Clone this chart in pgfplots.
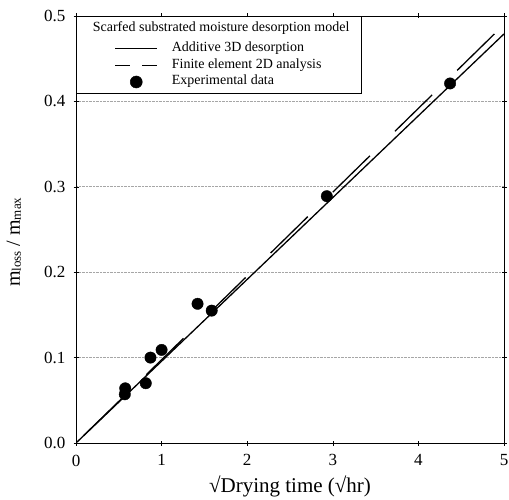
\documentclass[border=0pt]{standalone}
\usepackage{pgfplots}
\pgfplotsset{compat=1.18}
\usepackage{fontspec}
\setmainfont{Liberation Serif}
\begin{document}
\begin{tikzpicture}
\begin{axis}[
  name=ax,
  scale only axis, width=428pt, height=427pt,
  xmin=0, xmax=5, ymin=0, ymax=0.5,
  xtick={0,1,2,3,4,5}, ytick={0,0.1,0.2,0.3,0.4,0.5},
  /pgf/number format/assume math mode=true,
  yticklabel style={/pgf/number format/fixed, /pgf/number format/fixed zerofill, /pgf/number format/precision=1, inner sep=0pt, xshift=-8pt},
  xticklabel style={inner sep=0pt, yshift=-9pt},
  ticklabel style={font=\fontsize{17}{17}\selectfont},
  tick align=center, major tick length=5pt, tick style={black, line width=0.5pt},
  ymajorgrids, major grid style={densely dotted, gray!70, line width=0.6pt},
  axis line style={black, line width=0.6pt},
  xlabel={\fontsize{21}{21}\selectfont √Drying time (√hr)},
  xlabel style={at={(axis description cs:0.5,0)}, anchor=base, yshift=-49pt, inner sep=0pt},
  ylabel={\fontsize{20}{20}\selectfont m\raisebox{-1pt}{\fontsize{13}{13}\selectfont loss} / m\raisebox{-1pt}{\fontsize{13}{13}\selectfont max}},
  ylabel style={at={(axis description cs:-0.145,0.47)}, anchor=center, inner sep=0pt},
  legend style={at={(rel axis cs:0,1)}, anchor=north west, draw=black, line width=0.5pt, inner sep=3pt, row sep=0pt, column sep=14pt,
    font=\fontsize{14}{16}\selectfont,
    nodes={inner sep=0pt, text depth={}, text height={}, font=\fontsize{14}{16}\selectfont}, cells={anchor=west}},
]
\addlegendimage{empty legend}
\addlegendentry{\hspace*{-79pt}\rule[-9pt]{0pt}{21.5pt}Scarfed substrated moisture desorption model\hspace*{9pt}}

\addplot[black, line width=1.3pt,
  legend image code/.code={\path[draw=none] (0pt,0pt) -- (78pt,0pt); \draw[black, line width=1pt, solid] (36pt,0pt) -- (78pt,0pt);}]
  coordinates {(0,0) (5,0.479)};
\addlegendentry{\rule[-5.5pt]{0pt}{16.5pt}Additive 3D desorption}

\addplot[black, line width=1.3pt, dash pattern=on 52pt off 35pt, dash phase=76pt,
  legend image code/.code={\path[draw=none] (0pt,0pt) -- (78pt,0pt); \draw[black, line width=1.2pt, solid] (36pt,0pt) -- (51pt,0pt) (63pt,0pt) -- (78pt,0pt);}]
  coordinates {(0,0) (1,0.0975) (5,0.49)};
\addlegendentry{\rule[-5.5pt]{0pt}{16.5pt}Finite element 2D analysis}

\addplot[only marks, mark=*, mark size=5.7pt, black, mark options={fill=black},
  legend image code/.code={\path[draw=none] (0pt,0pt) -- (78pt,0pt); \fill[black] (57pt,0pt) circle (6pt);}]
  table {
x y
0.570 0.057
0.575 0.064
0.815 0.070
0.870 0.100
1.000 0.109
1.420 0.163
1.585 0.155
2.930 0.289
4.370 0.421
};
\addlegendentry{\rule[-5.5pt]{0pt}{16.5pt}Experimental data}
\end{axis}
\path ([shift={(-76pt,-56pt)}]ax.south west) rectangle ([shift={(5pt,16pt)}]ax.north east);
\end{tikzpicture}
\end{document}
